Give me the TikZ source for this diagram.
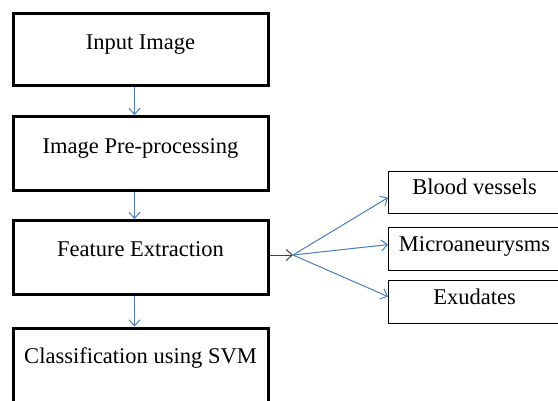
\documentclass[tikz,border=0pt]{standalone}
\usepackage{fontspec}
\setmainfont{Liberation Serif}
\usetikzlibrary{arrows.meta}
\definecolor{arrblue}{HTML}{4A7EBB}
\definecolor{arrgray}{HTML}{404040}
\tikzset{
  mainbox/.style={draw=black, line width=3pt, inner sep=0pt, anchor=north west,
    minimum width=255pt, align=center, font=\fontsize{22.5}{27}\selectfont},
  sidebox/.style={draw=black, line width=1.2pt, inner sep=0pt, anchor=north west,
    minimum width=172pt, align=center, font=\fontsize{22.5}{27}\selectfont},
  flow/.style={draw=arrblue, line width=1pt, -{Straight Barb[length=6pt,width=11pt]}},
  fan/.style={draw=arrblue, line width=1pt, -{Straight Barb[length=6pt,width=11pt]}},
  feed/.style={draw=arrgray, line width=1pt, -{Straight Barb[length=6pt,width=11pt]}}
}
\begin{document}
\begin{tikzpicture}[x=1pt, y=-1pt]
\useasboundingbox (0,0) rectangle (558,400);
\clip (0,0) rectangle (558,400);
% left column
\node[mainbox, text height=36pt, text depth=36.5pt] (inp) at (11.5,11.5) {Input Image};
\node[mainbox, text height=37pt, text depth=37pt] (pre) at (11.5,115) {Image Pre-processing};
\node[mainbox, text height=35.5pt, text depth=38.5pt] (fea) at (11.5,219) {Feature Extraction};
\node[mainbox, text height=35.5pt, text depth=50pt] (cls) at (11.5,326.5) {Classification using SVM};
% right column
\node[sidebox, text height=23pt, text depth=19pt] (bv) at (388,171) {Blood vessels};
\node[sidebox, text height=24pt, text depth=19pt] (ma) at (388,227) {Microaneurysms};
\node[sidebox, text height=24pt, text depth=19pt] (ex) at (388,280) {Exudates};
% vertical flow
\draw[flow] ([xshift=-6pt]inp.south) -- ([xshift=-6pt]pre.north);
\draw[flow] ([xshift=-6pt]pre.south) -- ([xshift=-6pt]fea.north);
\draw[flow] ([xshift=-6pt]fea.south) -- ([xshift=-6pt]cls.north);
% fan out
\coordinate (hub) at (293,255);
\draw[feed] (fea.east |- hub) -- (hub);
\draw[fan] (hub) -- ([yshift=-5pt]bv.west);
\draw[fan] (hub) -- ([yshift=4.5pt]ma.west);
\draw[fan] (hub) -- ([yshift=5.5pt]ex.west);
\end{tikzpicture}
\end{document}
